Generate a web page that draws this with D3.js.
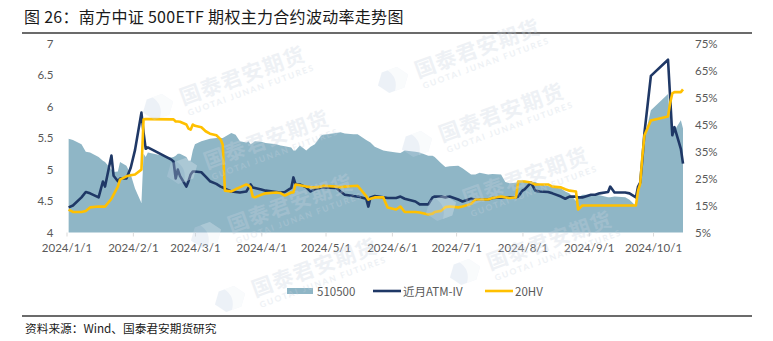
<!DOCTYPE html>
<html>
<head>
<meta charset="utf-8">
<script src="https://cdn.jsdelivr.net/npm/d3@7"></script>
<style>
  html, body { margin: 0; padding: 0; background: #ffffff; }
  svg { display: block; }
</style>
</head>
<body>
<svg id="chart" width="773" height="341"></svg>
<script>
// 2024 trading dates (subset) for the 500ETF option chart
const dates = [
  "2024-01-02","2024-01-04","2024-01-08","2024-01-10","2024-01-12","2024-01-16","2024-01-18","2024-01-19",
  "2024-01-22","2024-01-23","2024-01-25","2024-01-26","2024-01-29","2024-01-31","2024-02-02","2024-02-05",
  "2024-02-06","2024-02-07","2024-02-08","2024-02-19","2024-02-20","2024-02-21","2024-02-22","2024-02-23",
  "2024-02-26","2024-02-27","2024-02-28","2024-02-29","2024-03-01","2024-03-04","2024-03-06","2024-03-08",
  "2024-03-11","2024-03-13","2024-03-14","2024-03-15","2024-03-18","2024-03-20","2024-03-22","2024-03-25",
  "2024-03-26","2024-03-27","2024-03-28","2024-03-29","2024-04-01","2024-04-03","2024-04-08","2024-04-10",
  "2024-04-12","2024-04-15","2024-04-16","2024-04-17","2024-04-19","2024-04-22","2024-04-24","2024-04-26",
  "2024-04-29","2024-04-30","2024-05-06","2024-05-08","2024-05-10","2024-05-14","2024-05-16","2024-05-20",
  "2024-05-21","2024-05-22","2024-05-24","2024-05-28","2024-05-30","2024-06-03","2024-06-05","2024-06-07",
  "2024-06-12","2024-06-14","2024-06-18","2024-06-20","2024-06-21","2024-06-24","2024-06-26","2024-06-28",
  "2024-07-02","2024-07-04","2024-07-08","2024-07-10","2024-07-12","2024-07-16","2024-07-18","2024-07-22",
  "2024-07-24","2024-07-26","2024-07-29","2024-07-30","2024-08-01","2024-08-02","2024-08-05","2024-08-07",
  "2024-08-09","2024-08-13","2024-08-15","2024-08-19","2024-08-21","2024-08-23","2024-08-26","2024-08-27",
  "2024-08-29","2024-09-02","2024-09-04","2024-09-06","2024-09-10","2024-09-11","2024-09-13","2024-09-18",
  "2024-09-20","2024-09-23","2024-09-24","2024-09-25","2024-09-26","2024-09-27","2024-09-30","2024-10-08",
  "2024-10-09","2024-10-10","2024-10-11","2024-10-14","2024-10-15"
];

// 510500 close (left axis)
const etf510500 = [
  5.49,5.47,5.40,5.28,5.27,5.20,5.14,5.12,
  5.00,4.96,4.97,5.12,5.06,4.92,4.70,4.47,
  5.25,5.20,5.27,5.19,5.20,5.22,5.25,5.25,
  5.20,5.14,5.14,5.30,5.40,5.45,5.47,5.49,
  5.50,5.50,5.50,5.52,5.58,5.55,5.45,5.43,
  5.45,5.40,5.42,5.45,5.44,5.42,5.40,5.38,
  5.37,5.35,5.30,5.30,5.38,5.30,5.36,5.40,
  5.54,5.55,5.58,5.59,5.57,5.56,5.56,5.47,
  5.45,5.43,5.36,5.30,5.29,5.27,5.26,5.30,
  5.28,5.27,5.22,5.22,5.20,5.10,5.04,5.05,
  5.06,5.02,4.92,4.92,4.95,4.92,4.93,4.92,
  4.80,4.78,4.79,4.81,4.82,4.82,4.80,4.80,
  4.77,4.74,4.72,4.70,4.65,4.62,4.50,4.55,
  4.60,4.60,4.60,4.59,4.56,4.56,4.57,4.56,
  4.52,4.42,4.70,4.78,5.10,5.50,5.94,6.20,
  5.80,5.68,5.62,5.78,5.65
];

// front-month ATM implied volatility, % (right axis)
const atmIV = [
  14.3,15.0,18.0,20.0,19.5,18.0,23.9,22.0,
  33.5,26.0,24.0,25.0,25.0,29.0,35.5,49.4,
  42.0,36.0,36.5,32.0,31.3,25.0,28.3,26.0,
  22.0,24.0,26.5,27.6,27.6,27.3,25.7,24.0,
  23.0,22.0,21.7,21.2,20.2,20.0,19.8,20.2,
  21.5,22.8,21.7,21.5,20.9,20.5,20.0,19.8,
  20.0,21.5,25.4,22.8,22.8,21.7,20.2,21.0,
  21.7,21.7,21.5,20.2,19.0,18.5,18.3,17.5,
  14.6,18.0,18.5,18.0,17.8,17.8,18.3,17.5,
  16.5,15.4,15.4,18.0,18.3,18.3,18.0,18.3,
  17.2,16.5,17.5,17.2,17.2,17.2,17.8,18.0,
  18.0,18.0,18.0,18.3,20.5,21.0,23.5,20.5,
  20.2,20.0,19.5,18.3,17.5,18.3,18.3,18.0,
  18.0,19.0,19.0,19.5,20.0,22.0,19.8,19.8,
  19.5,18.0,22.0,23.5,32.0,42.0,63.0,69.0,
  55.0,41.0,44.0,36.0,30.5
];

// 20-day historical volatility, % (right axis)
const hv20 = [
  13.5,12.6,12.6,13.0,14.3,14.6,14.6,14.6,
  17.5,19.0,22.0,24.6,25.8,26.2,26.5,28.3,
  46.9,47.0,47.0,46.9,46.9,46.1,46.1,46.0,
  45.0,43.5,43.1,45.0,44.5,44.0,42.5,41.6,
  41.0,39.5,37.5,20.5,20.2,21.0,21.7,22.8,
  22.5,21.7,18.3,18.0,19.0,19.5,19.8,19.6,
  18.7,19.8,19.8,22.8,22.5,22.0,21.8,21.7,
  22.0,22.3,22.0,21.8,22.0,22.2,22.3,18.5,
  17.2,17.5,18.0,18.0,14.3,13.5,14.6,12.6,
  12.6,12.4,11.7,12.0,12.6,13.0,14.4,14.6,
  14.3,14.6,15.6,17.2,17.2,17.2,17.8,18.3,
  18.0,17.8,18.0,23.9,23.9,23.9,23.5,22.8,
  22.8,22.8,22.0,21.7,21.0,20.5,20.2,13.5,
  15.0,15.0,15.0,15.0,15.0,15.0,15.0,15.0,
  15.0,15.0,20.5,23.0,33.0,41.0,46.5,48.0,
  53.0,56.5,57.0,57.0,58.0
];

const leftTicks = [4, 4.5, 5, 5.5, 6, 6.5, 7];
const rightTicks = [5, 15, 25, 35, 45, 55, 65, 75];
const monthTicks = ["2024-01-01","2024-02-01","2024-03-01","2024-04-01","2024-05-01",
                    "2024-06-01","2024-07-01","2024-08-01","2024-09-01","2024-10-01"];
const seriesNames = ["510500", "近月ATM-IV", "20HV"];

const parse = d3.timeParse("%Y-%m-%d");
const rows = dates.map((d, i) => ({
  date: parse(d), price: etf510500[i], iv: atmIV[i], hv: hv20[i]
}));

const svg = d3.select("#chart");
const W = 773, H = 341;
const plot = { left: 66.5, right: 683, top: 43.5, bottom: 232.5 };

const x = d3.scaleTime()
  .domain([parse("2024-01-01"), parse("2024-10-15")])
  .range([plot.left, plot.right]);
const yL = d3.scaleLinear().domain([4, 7]).range([plot.bottom, plot.top]);
const yR = d3.scaleLinear().domain([5, 75]).range([plot.bottom, plot.top]);

const colors = { area: "#8fb6c6", iv: "#1f3866", hv: "#ffc000" };
const axisFont = "Lato, 'Open Sans', sans-serif";
const cjkFont = "'Noto Sans CJK SC', 'Noto Sans', sans-serif";

// title and rules
svg.append("text")
  .attr("x", 24).attr("y", 23)
  .attr("font-family", cjkFont).attr("font-size", 16)
  .attr("fill", "#1a1a1a").attr("letter-spacing", 0.3)
  .text("图 26：南方中证 500ETF 期权主力合约波动率走势图");
svg.append("line").attr("x1", 22).attr("x2", 752).attr("y1", 33).attr("y2", 33)
  .attr("stroke", "#3a3a3a").attr("stroke-width", 1.3);
svg.append("line").attr("x1", 22).attr("x2", 752).attr("y1", 316).attr("y2", 316)
  .attr("stroke", "#3a3a3a").attr("stroke-width", 1.3);
svg.append("text")
  .attr("x", 25).attr("y", 333)
  .attr("font-family", cjkFont).attr("font-size", 11.7)
  .attr("fill", "#1a1a1a")
  .text("资料来源：Wind、国泰君安期货研究");

// price area
const area = d3.area()
  .x(d => x(d.date)).y0(plot.bottom).y1(d => yL(d.price));
svg.append("path").datum(rows)
  .attr("d", area).attr("fill", colors.area);

// volatility lines
const ivLine = d3.line().x(d => x(d.date)).y(d => yR(d.iv));
const hvLine = d3.line().x(d => x(d.date)).y(d => yR(d.hv));
svg.append("path").datum(rows).attr("d", ivLine)
  .attr("fill", "none").attr("stroke", colors.iv)
  .attr("stroke-width", 2.6).attr("stroke-linejoin", "round");
svg.append("path").datum(rows).attr("d", hvLine)
  .attr("fill", "none").attr("stroke", colors.hv)
  .attr("stroke-width", 2.6).attr("stroke-linejoin", "round");

// x axis
const xAxis = d3.axisBottom(x)
  .tickValues(monthTicks.map(parse))
  .tickFormat(d3.timeFormat("%Y/%-m/%-d"))
  .tickSize(4).tickPadding(7);
const gx = svg.append("g").attr("transform", `translate(0,${plot.bottom})`).call(xAxis);
gx.select(".domain").remove();
gx.selectAll(".tick line").attr("stroke", "#d9d9d9");
gx.selectAll(".tick text").attr("font-family", axisFont).attr("font-size", 11.5).attr("fill", "#595959");

// left axis
const gl = svg.append("g").attr("transform", `translate(${plot.left - 11},0)`)
  .call(d3.axisLeft(yL).tickValues(leftTicks).tickFormat(d3.format("")).tickSize(0).tickPadding(2));
gl.select(".domain").remove();
gl.selectAll(".tick text").attr("font-family", axisFont).attr("font-size", 11.5).attr("fill", "#595959");

// right axis
const gr = svg.append("g").attr("transform", `translate(${plot.right + 10},0)`)
  .call(d3.axisRight(yR).tickValues(rightTicks).tickFormat(d => d + "%").tickSize(0).tickPadding(2));
gr.select(".domain").remove();
gr.selectAll(".tick text").attr("font-family", axisFont).attr("font-size", 11.5).attr("fill", "#595959");

// legend
const legend = svg.append("g").attr("font-family", cjkFont).attr("font-size", 11.5).attr("fill", "#595959");
const legendItems = [
  { name: seriesNames[0], x: 287, type: "rect", color: colors.area },
  { name: seriesNames[1], x: 373, type: "line", color: colors.iv },
  { name: seriesNames[2], x: 485, type: "line", color: colors.hv }
];
legendItems.forEach(it => {
  if (it.type === "rect") {
    legend.append("rect").attr("x", it.x).attr("y", 288).attr("width", 26).attr("height", 6).attr("fill", it.color);
  } else {
    legend.append("line").attr("x1", it.x).attr("x2", it.x + 28).attr("y1", 291).attr("y2", 291)
      .attr("stroke", it.color).attr("stroke-width", 2.6);
  }
  legend.append("text").attr("x", it.x + 30).attr("y", 295.5).text(it.name);
});

// faint brand watermark tiles, only those that sit fully on the page
const wm = svg.append("g").attr("pointer-events", "none");
const tileOrigins = [];
for (let j = -1; j <= 4; j++) {
  for (let i = -1; i <= 3; i++) {
    const tx = 158 + 235 * i + 24 * j, ty = 107 - 27 * i + 64 * j;
    if (tx - 20 >= 0 && tx + 190 <= W && ty - 75 >= 0 && ty + 22 <= H) tileOrigins.push([tx, ty]);
  }
}
tileOrigins.forEach(([tx, ty]) => {
  const g = wm.append("g").attr("transform", `translate(${tx},${ty}) rotate(-20)`).attr("opacity", 0.3);
  g.append("path")
    .attr("d", "M-16,0 L-8,-11 L8,-11 L16,0 L8,11 L-8,11 Z")
    .attr("fill", "#c3d3e6");
  g.append("path")
    .attr("d", "M-2,-11 L8,-11 L16,0 L8,11 L-2,11 Q6,0 -2,-11 Z")
    .attr("fill", "#ffffff").attr("opacity", 0.7);
  g.append("text").attr("x", 24).attr("y", 7)
    .attr("font-family", cjkFont).attr("font-weight", 700).attr("font-size", 21)
    .attr("fill", "#c8d3e0").attr("letter-spacing", 1)
    .text("国泰君安期货");
  g.append("text").attr("x", 26).attr("y", 19)
    .attr("font-family", axisFont).attr("font-weight", 700).attr("font-size", 8.5)
    .attr("fill", "#c8d3e0").attr("letter-spacing", 1.6)
    .text("GUOTAI JUNAN FUTURES");
});
</script>
</body>
</html>
